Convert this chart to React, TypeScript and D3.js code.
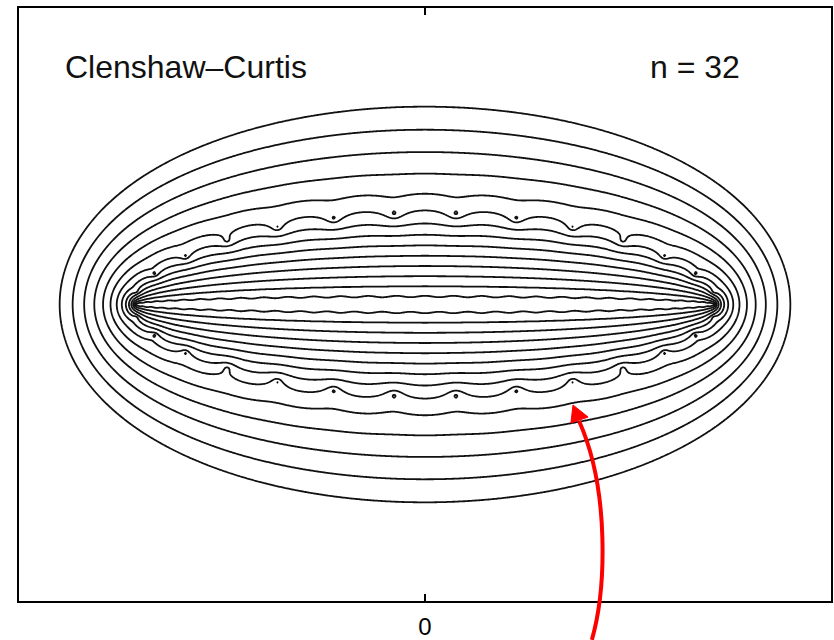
import { useMemo } from 'react';
import * as d3 from 'd3';

// quadrature setup shown in the panel
const nodeCount = 32;
// error contour levels, log10 |I - I_n|
const levelExponents = [-13, -12, -11, -10, -9, -8, -7, -6, -5, -4, -3, -2, -1, 0];
// plot window in the complex z-plane
const xDomain: [number, number] = [-1.4, 1.4];
const yDomain: [number, number] = [-1.06, 1.06];
const xTickValues = [0];
const titleText = 'Clenshaw\u2013Curtis';
const nLabel = `n = ${nodeCount}`;
// red annotation arrow, in z-plane units (start, two controls, end; then the head)
const arrowCurve: [number, number][] = [
  [0.574, -1.195],
  [0.623, -1.017],
  [0.636, -0.661],
  [0.530, -0.415],
];
const arrowHead: [number, number][] = [
  [0.509, -0.358],
  [0.502, -0.422],
  [0.561, -0.401],
];

const WIDTH = 834;
const HEIGHT = 640;
const margin = { left: 18, top: 7, right: 2, bottom: 38 };

function clenshawCurtis(n: number) {
  const nodes: number[] = [];
  const weights: number[] = [];
  for (let k = 0; k <= n; k++) {
    const theta = (k * Math.PI) / n;
    let s = 0;
    for (let j = 1; j <= Math.floor(n / 2); j++) {
      const b = 2 * j === n ? 1 : 2;
      s += (b / (4 * j * j - 1)) * Math.cos(2 * j * theta);
    }
    const c = k === 0 || k === n ? 1 : 2;
    nodes.push(Math.cos(theta));
    weights.push((c / n) * (1 - s));
  }
  return { nodes, weights };
}

export default function App() {
  const innerW = WIDTH - margin.left - margin.right;
  const innerH = HEIGHT - margin.top - margin.bottom;
  const x = d3.scaleLinear().domain(xDomain).range([margin.left, margin.left + innerW]);
  const y = d3.scaleLinear().domain(yDomain).range([margin.top + innerH, margin.top]);

  const contourPaths = useMemo(() => {
    const res = 1;
    const nx = Math.round(innerW * res);
    const ny = Math.round(innerH * res);
    const { nodes, weights } = clenshawCurtis(nodeCount);
    const values = new Float64Array(nx * ny);
    for (let j = 0; j < ny; j++) {
      const zi = y.invert(margin.top + (j + 0.5) / res);
      for (let i = 0; i < nx; i++) {
        const zr = x.invert(margin.left + (i + 0.5) / res);
        // exact integral of 1/(z-x) over [-1,1]: log((z+1)/(z-1))
        const ap = zr + 1;
        const am = zr - 1;
        const re = 0.5 * Math.log((ap * ap + zi * zi) / (am * am + zi * zi));
        const im = Math.atan2(zi, ap) - Math.atan2(zi, am);
        let qr = 0;
        let qi = 0;
        for (let k = 0; k < nodes.length; k++) {
          const dx = zr - nodes[k];
          const d = dx * dx + zi * zi;
          qr += (weights[k] * dx) / d;
          qi -= (weights[k] * zi) / d;
        }
        const er = re - qr;
        const ei = im - qi;
        let v = 0.5 * Math.log10(er * er + ei * ei);
        if (!(v < 5)) v = 5;
        if (v < -20) v = -20;
        values[j * nx + i] = v;
      }
    }
    const contours = d3.contours().size([nx, ny]).thresholds(levelExponents)(Array.from(values));
    const path = d3.geoPath(d3.geoIdentity().scale(1 / res).translate([margin.left, margin.top]) as any);
    return contours.map((c) => ({ level: c.value, d: path(c) ?? '' }));
  }, []);

  const curve = arrowCurve.map(([a, b]) => [x(a), y(b)]);
  const arrowD = `M${curve[0][0]},${curve[0][1]} C${curve[1][0]},${curve[1][1]} ${curve[2][0]},${curve[2][1]} ${curve[3][0]},${curve[3][1]}`;
  const headD = 'M' + arrowHead.map(([a, b]) => `${x(a)},${y(b)}`).join('L') + 'Z';

  const font = '"Liberation Sans", Arial, Helvetica, sans-serif';

  return (
    <svg width={WIDTH} height={HEIGHT} style={{ position: 'absolute', left: 0, top: 0, background: '#fff' }}>
      <g fill="none" stroke="#111" strokeWidth={1.8} strokeLinejoin="round">
        {contourPaths.map((c) => (
          <path key={c.level} d={c.d} />
        ))}
      </g>
      <rect x={margin.left} y={margin.top} width={innerW} height={innerH} fill="none" stroke="#000" strokeWidth={2} />
      {xTickValues.map((t) => (
        <g key={t} stroke="#000" strokeWidth={2}>
          <line x1={x(t)} x2={x(t)} y1={margin.top} y2={margin.top + 8} />
          <line x1={x(t)} x2={x(t)} y1={margin.top + innerH} y2={margin.top + innerH - 8} />
        </g>
      ))}
      {xTickValues.map((t) => (
        <text key={t} x={x(t)} y={635} textAnchor="middle" fontFamily={font} fontSize={24} fill="#000">
          {t}
        </text>
      ))}
      <text x={65} y={78} fontFamily={font} fontSize={32} fill="#111">
        {titleText}
      </text>
      <text x={650} y={78} fontFamily={font} fontSize={32} fill="#111">
        {nLabel}
      </text>
      <path d={arrowD} fill="none" stroke="#ff0000" strokeWidth={4} />
      <path d={headD} fill="#ff0000" stroke="#ff0000" strokeWidth={1} strokeLinejoin="miter" />
    </svg>
  );
}
